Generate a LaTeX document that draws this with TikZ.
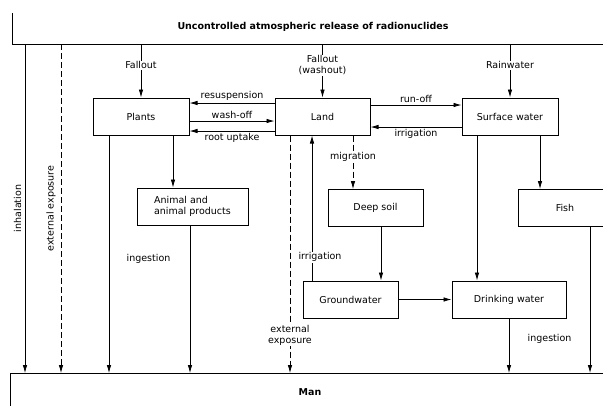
\documentclass[tikz,border=0pt]{standalone}
\usepackage{fontspec}
\setmainfont{DejaVu Sans}
\usetikzlibrary{arrows.meta}

\begin{document}
\begin{tikzpicture}[x=1pt,y=-1pt,>={Latex[length=8pt,width=4.5pt]},
  font=\fontsize{9.5}{11}\selectfont,
  box/.style={draw,line width=1pt,minimum height=37pt,align=center},
  flow/.style={->,line width=0.75pt},
  dashline/.style={dash pattern=on 6pt off 3pt},
  lbl/.style={fill=white,inner sep=1pt,align=center}]
\useasboundingbox (0,0) rectangle (603,405);

\draw[line width=1pt] (12,13) |- (610,44);
\node[font=\fontsize{9.5}{11}\selectfont\bfseries] (release) at (313,27) {Uncontrolled atmospheric release of radionuclides};
\coordinate (reltop) at (0,44);

\draw[line width=1pt] (10,410) |- (610,373);
\node[font=\fontsize{9.5}{11}\selectfont\bfseries] (man) at (310,392) {Man};
\coordinate (mantop) at (0,373);

\node[box,minimum width=96pt] (plants) at (141,116.5) {Plants};
\node[box,minimum width=95pt] (land) at (322.5,116.5) {Land};
\node[box,minimum width=96pt] (surface) at (510,116.5) {Surface water};
\node[box,minimum width=111pt,align=left] (animal) at (192.5,206.5) {Animal and\\animal products};
\node[box,minimum width=95pt] (deepsoil) at (375.5,208) {Deep soil};
\node[box,minimum width=94pt] (fish) at (565,208) {Fish};
\node[box,minimum width=95pt] (ground) at (350.5,299.5) {Groundwater};
\node[box,minimum width=114pt] (drinking) at (509,299.5) {Drinking water};

\draw[flow] (reltop -| plants) -- node[lbl,pos=0.4] {Fallout} (plants);
\draw[flow] (reltop -| land) -- node[lbl,pos=0.4] {Fallout\\(washout)} (land);
\draw[flow] (reltop -| surface) -- node[lbl,pos=0.4] {Rainwater} (surface);

\draw[flow] ([yshift=13.5pt]land.west) -- node[above,inner sep=2pt] {resuspension} ([yshift=13.5pt]plants.east);
\draw[flow] ([yshift=-4.5pt]plants.east) -- node[above,inner sep=2pt] {wash-off} ([yshift=-4.5pt]land.west);
\draw[flow] ([yshift=-14.5pt]land.west) -- node[below,inner sep=2pt] {root uptake} ([yshift=-14.5pt]plants.east);
\draw[flow] ([yshift=11.5pt]land.east) -- node[above,inner sep=2pt] {run-off} ([yshift=11.5pt]surface.west);
\draw[flow] ([yshift=-10.5pt]surface.west) -- node[below,inner sep=2pt] {irrigation} ([yshift=-10.5pt]land.east);

\draw[flow,dashline] ([xshift=30.5pt]land.south) -- node[lbl,pos=0.4] {migration} ([xshift=30.5pt]land.south |- deepsoil.north);
\draw[flow] ([xshift=-38.5pt]ground.north) -- node[lbl,pos=0.16,xshift=8pt] {irrigation} ([xshift=-38.5pt]ground.north |- land.south);
\draw[flow,dashline] ([xshift=-32.5pt]land.south) -- node[lbl,pos=0.84] {external\\exposure} ([xshift=-32.5pt]land.south |- mantop);

\draw[flow] ([xshift=5.5pt]deepsoil.south) -- ([xshift=5.5pt]deepsoil.south |- ground.north);
\draw[flow] (ground) -- (drinking);
\draw[flow] ([xshift=-33pt]surface.south) -- ([xshift=-33pt]surface.south |- drinking.north);
\draw[flow] ([xshift=30pt]surface.south) -- ([xshift=30pt]surface.south |- fish.north);
\draw[flow] (drinking.south) -- node[right=15pt,pos=0.38] {ingestion} (drinking.south |- mantop);
\draw[flow] ([xshift=25pt]fish.south) -- ([xshift=25pt]fish.south |- mantop);

\draw[flow] ([xshift=32pt]plants.south) -- ([xshift=32pt]plants.south |- animal.north);
\draw[flow] ([xshift=-32pt]plants.south) -- node[right=14pt,pos=0.52] {ingestion} ([xshift=-32pt]plants.south |- mantop);
\draw[flow] ([xshift=-2.5pt]animal.south) -- ([xshift=-2.5pt]animal.south |- mantop);

\coordinate (inh) at (25,44);
\coordinate (ext) at (61,44);
\draw[flow] (inh) -- node[midway,rotate=90,anchor=south] {inhalation} (inh |- mantop);
\draw[flow,dashline] (ext) -- node[pos=0.5,rotate=90,anchor=south,inner sep=5pt] {external exposure} (ext |- mantop);
\end{tikzpicture}
\end{document}
